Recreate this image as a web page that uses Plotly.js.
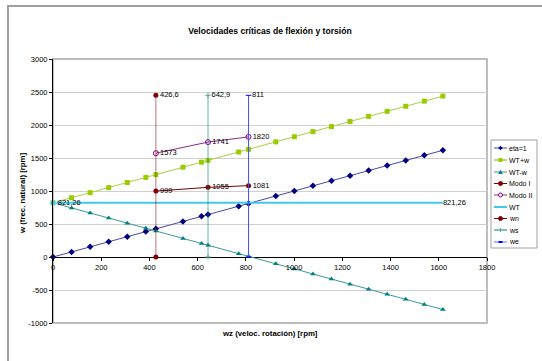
<!DOCTYPE html>
<html>
<head>
<meta charset="utf-8">
<script src="https://cdn.plot.ly/plotly-3.0.1.min.js"></script>
<style>html,body{margin:0;padding:0;background:#fff;}#chart{width:542px;height:361px;}</style>
</head>
<body>
<div id="chart"></div>
<script>
// ---- data ----
const wz       = [0,77,154,231,308,385,426.6,539,616,642.9,770,811,924,1001,1078,1155,1232,1309,1386,1463,1540,1617];
const eta1     = [0,77,154,231,308,385,426.6,539,616,642.9,770,811,924,1001,1078,1155,1232,1309,1386,1463,1540,1617];
const wtPlusW  = [821.26,898,975,1052,1129,1206,1248,1360,1437,1464,1591,1632,1745,1822,1899,1976,2053,2130,2207,2284,2361,2438];
const wtMinusW = [821.26,744,667,590,513,436,395,282,205,178,51,10,-103,-180,-257,-334,-411,-488,-565,-642,-719,-796];
const modoX    = [426.6, 642.9, 811];
const modoI    = [999, 1055, 1081];
const modoII   = [1573, 1741, 1820];
const wtX      = [0, 1617];
const wtY      = [821.26, 821.26];
const wnX      = [426.6, 426.6];
const wsX      = [642.9, 642.9];
const weX      = [811, 811];
const vertY    = [0, 2450];
const seriesNames = ["eta=1","WT+w","WT-w","Modo I","Modo II","WT","wn","ws","we"];
const xTicks   = [0,200,400,600,800,1000,1200,1400,1600,1800];
const yTicks   = [-1000,-500,0,500,1000,1500,2000,2500,3000];
const yTickText = ["-1000","-500","0","500","1000","1500","2000","2500","3000"];
const chartTitle = "Velocidades críticas de flexión y torsión";
const xTitle = "wz (veloc. rotación) [rpm]";
const yTitle = "w (frec. natural) [rpm]";

const fmt = v => String(v).replace('.', ',');
const FONT = "Liberation Sans, Arial, sans-serif";
const tf = {family: FONT, size: 7.5, color: '#000'};

const traces = [
  {name: seriesNames[0], x: wz, y: eta1, mode: 'lines+markers',
   line: {color: '#4848a0', width: 1}, marker: {symbol: 'diamond', size: 5, color: '#000080'}},
  {name: seriesNames[1], x: wz, y: wtPlusW, mode: 'lines+markers',
   line: {color: '#a8d040', width: 1}, marker: {symbol: 'square', size: 5, color: '#99cc00'}},
  {name: seriesNames[2], x: wz, y: wtMinusW, mode: 'lines+markers',
   line: {color: '#3a9a96', width: 1}, marker: {symbol: 'triangle-up', size: 5, color: '#008080'}},
  {name: seriesNames[3], x: modoX, y: modoI, mode: 'lines+markers+text',
   text: modoI.map(fmt), textposition: 'middle right', textfont: tf,
   line: {color: '#800000', width: 1}, marker: {symbol: 'circle', size: 5, color: '#800000'}},
  {name: seriesNames[4], x: modoX, y: modoII, mode: 'lines+markers+text',
   text: modoII.map(fmt), textposition: 'middle right', textfont: tf,
   line: {color: '#8a2a8a', width: 1}, marker: {symbol: 'circle-open', size: 5, color: '#800080', line: {width: 1}}},
  {name: seriesNames[5], x: wtX, y: wtY, mode: 'lines+markers+text',
   text: wtY.map(fmt), textposition: 'middle right', textfont: tf,
   line: {color: '#40c8f0', width: 2}, marker: {symbol: 'square', size: [6, 0], color: '#40c8f0'}},
  {name: seriesNames[6], x: wnX, y: vertY, mode: 'lines+markers+text',
   text: ['', fmt(wnX[0])], textposition: 'middle right', textfont: tf,
   line: {color: 'rgba(128,0,0,0.45)', width: 1.2}, marker: {symbol: 'circle', size: 5, color: '#800000'}},
  {name: seriesNames[7], x: wsX, y: vertY, mode: 'lines+markers+text',
   text: ['', fmt(wsX[0])], textposition: 'middle right', textfont: tf,
   line: {color: 'rgba(0,128,128,0.5)', width: 1.2}, marker: {symbol: 'cross-thin', size: 4, color: '#008080', line: {width: 1, color: '#60a0a0'}}},
  {name: seriesNames[8], x: weX, y: vertY, mode: 'lines+markers+text',
   text: ['', fmt(weX[0])], textposition: 'middle right', textfont: tf,
   line: {color: '#4050ff', width: 1}, marker: {symbol: 'line-ew', size: 4, color: '#0000ff', line: {width: 1, color: '#0000ff'}}}
];
traces.forEach(t => { t.showlegend = false; t.cliponaxis = false; t.hoverinfo = 'skip'; });

// pixel -> paper helpers for layout elements
const L = 53, R = 487, T = 59, B = 323;
const X = px => (px - L) / (R - L);
const Y = py => (B - py) / (B - T);

const shapes = [
  // outer chart frame (left & top visible)
  {type: 'rect', xref: 'paper', yref: 'paper', x0: X(8), x1: X(560), y0: Y(380), y1: Y(6),
   line: {color: '#a0a0a0', width: 2}, fillcolor: 'rgba(0,0,0,0)', layer: 'below'},
  // plot area border
  {type: 'rect', xref: 'paper', yref: 'paper', x0: 0, x1: 1, y0: 0, y1: 1,
   line: {color: '#a8a8a8', width: 1.5}, layer: 'below'},
  // legend box
  {type: 'rect', xref: 'paper', yref: 'paper', x0: X(491), x1: X(537), y0: Y(248), y1: Y(140),
   line: {color: '#a0a0a0', width: 1}, fillcolor: '#fff'}
];
const annotations = [
  {xref: 'paper', yref: 'paper', x: 0.5, y: Y(333), text: '<b>' + xTitle + '</b>', showarrow: false,
   xanchor: 'center', yanchor: 'middle', font: {family: FONT, size: 7.8, color: '#000'}},
  {xref: 'paper', yref: 'paper', x: X(22), y: Y(193), text: '<b>' + yTitle + '</b>', showarrow: false,
   textangle: -90, xanchor: 'center', yanchor: 'middle', font: {family: FONT, size: 7.8, color: '#000'}}
];

// custom compact legend
const legendRows = [148, 160, 172, 183.5, 195, 207, 218.5, 230, 242];
const legendStyle = [
  {line: '#4848a0', w: 1, sym: 'diamond', c: '#000080'},
  {line: '#a8d040', w: 1.5, sym: 'square', c: '#99cc00'},
  {line: '#3a9a96', w: 1, sym: 'triangle', c: '#008080'},
  {line: '#800000', w: 1, sym: 'circle', c: '#800000'},
  {line: '#8a2a8a', w: 1, sym: 'circle-open', c: '#800080'},
  {line: '#40c8f0', w: 2, sym: null, c: '#40c8f0'},
  {line: '#800000', w: 1, sym: 'circle', c: '#800000'},
  {line: '#008080', w: 1, sym: 'cross', c: '#60a0a0'},
  {line: '#6070ff', w: 1, sym: 'dash', c: '#0000ff'}
];
function P(px, py) { return X(px) + ',' + Y(py); }
legendRows.forEach((ry, i) => {
  const s = legendStyle[i];
  const cx = 500.5, r = 2.3;
  shapes.push({type: 'line', xref: 'paper', yref: 'paper', x0: X(494), x1: X(507), y0: Y(ry), y1: Y(ry),
    line: {color: s.line, width: s.w}});
  if (s.sym === 'diamond') shapes.push({type: 'path', xref: 'paper', yref: 'paper',
    path: 'M' + P(cx - r, ry) + 'L' + P(cx, ry - r) + 'L' + P(cx + r, ry) + 'L' + P(cx, ry + r) + 'Z',
    fillcolor: s.c, line: {width: 0}});
  if (s.sym === 'square') shapes.push({type: 'rect', xref: 'paper', yref: 'paper',
    x0: X(cx - 2), x1: X(cx + 2), y0: Y(ry + 2), y1: Y(ry - 2), fillcolor: s.c, line: {width: 0}});
  if (s.sym === 'triangle') shapes.push({type: 'path', xref: 'paper', yref: 'paper',
    path: 'M' + P(cx - r, ry + 2) + 'L' + P(cx, ry - 2.2) + 'L' + P(cx + r, ry + 2) + 'Z',
    fillcolor: s.c, line: {width: 0}});
  if (s.sym === 'circle' || s.sym === 'circle-open') shapes.push({type: 'circle', xref: 'paper', yref: 'paper',
    x0: X(cx - 2), x1: X(cx + 2), y0: Y(ry + 2), y1: Y(ry - 2),
    fillcolor: s.sym === 'circle' ? s.c : '#fff', line: {color: s.c, width: 1}});
  if (s.sym === 'cross') shapes.push({type: 'line', xref: 'paper', yref: 'paper',
    x0: X(cx), x1: X(cx), y0: Y(ry - 2), y1: Y(ry + 2), line: {color: s.c, width: 1}});
  if (s.sym === 'dash') shapes.push({type: 'line', xref: 'paper', yref: 'paper',
    x0: X(cx - 2), x1: X(cx + 2), y0: Y(ry), y1: Y(ry), line: {color: s.c, width: 2}});
  annotations.push({xref: 'paper', yref: 'paper', x: X(508), y: Y(ry), text: seriesNames[i], showarrow: false,
    xanchor: 'left', yanchor: 'middle', font: {family: FONT, size: 7, color: '#000'}, borderpad: 0});
});

const layout = {
  width: 542, height: 361,
  margin: {l: L, r: 542 - R, t: T, b: 361 - B, pad: 0},
  paper_bgcolor: '#fff', plot_bgcolor: '#fff',
  showlegend: false,
  title: {text: '<b>' + chartTitle + '</b>', x: 0.5, xref: 'paper', y: 1 - 31 / 361, yanchor: 'middle',
          font: {family: FONT, size: 8.6, color: '#000'}},
  xaxis: {range: [0, 1800], tickvals: xTicks, ticktext: xTicks.map(String),
          anchor: 'free', position: 0.25, showgrid: false, zeroline: false, showline: false,
          ticks: 'outside', ticklen: 3, tickcolor: '#000', tickfont: {family: FONT, size: 7.5, color: '#000'}},
  yaxis: {range: [-1000, 3000], tickvals: yTicks, ticktext: yTickText,
          showgrid: true, gridcolor: '#cfcfcf', gridwidth: 1,
          zeroline: true, zerolinecolor: '#000', zerolinewidth: 1,
          showline: true, linecolor: '#000', linewidth: 1,
          ticks: 'outside', ticklen: 3, tickcolor: '#000', tickfont: {family: FONT, size: 7.5, color: '#000'}},
  shapes: shapes,
  annotations: annotations
};

Plotly.newPlot('chart', traces, layout, {staticPlot: true, displayModeBar: false});
</script>
</body>
</html>
